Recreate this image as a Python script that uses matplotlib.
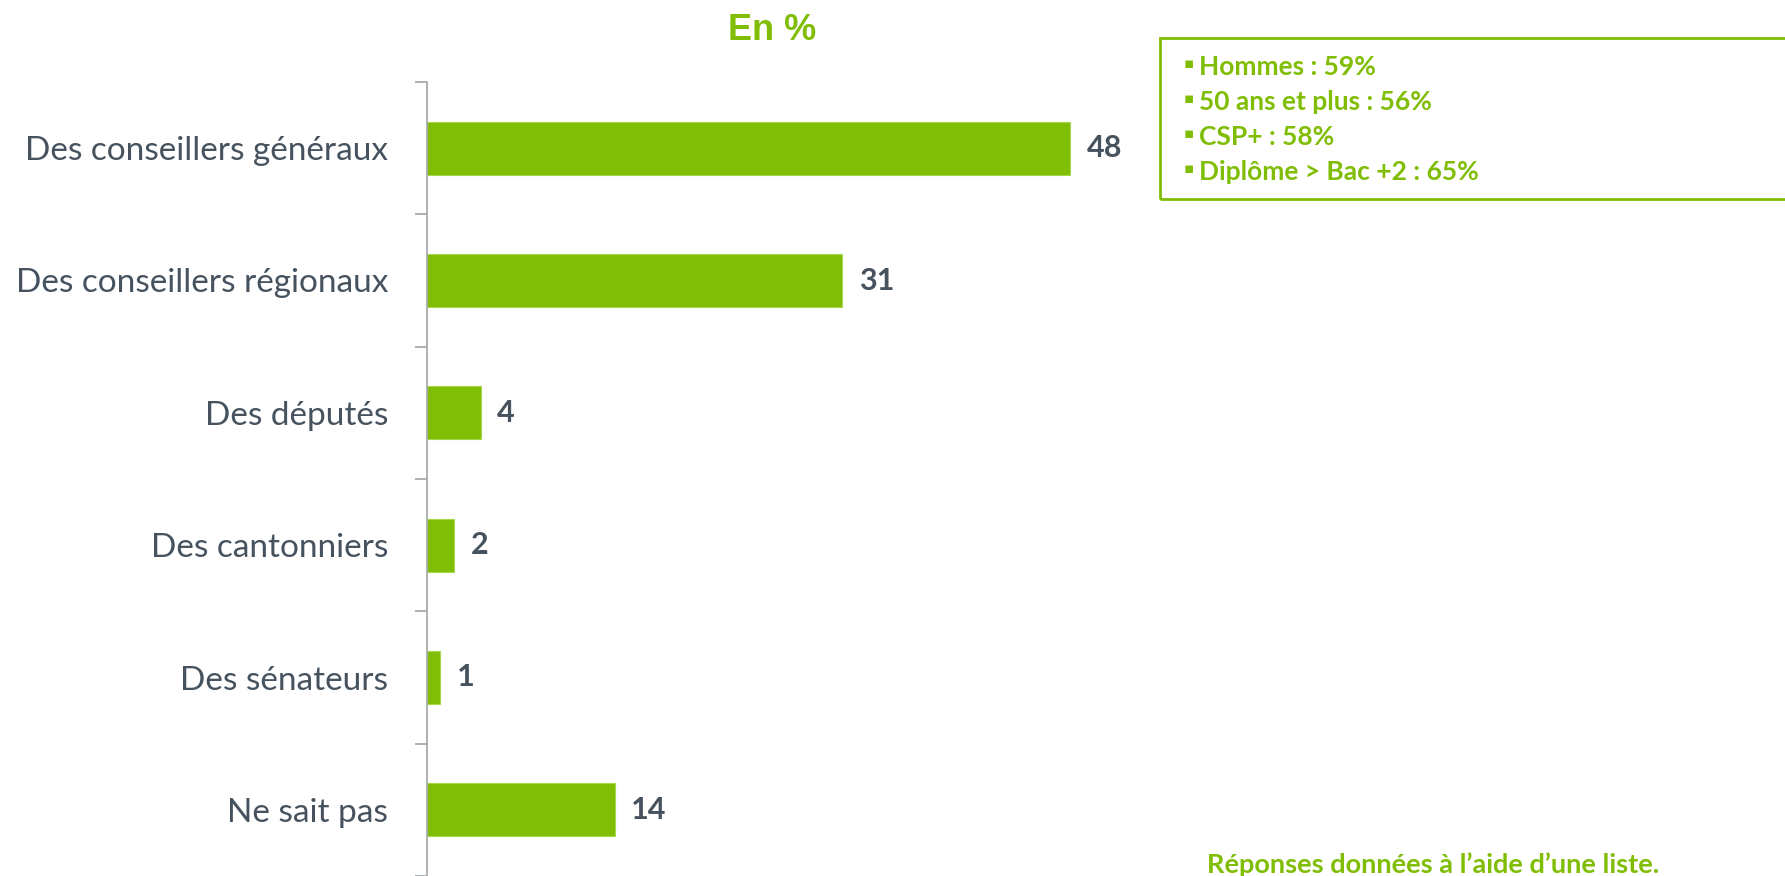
import matplotlib.pyplot as plt
from matplotlib.patches import Rectangle

green = '#80bd05'
slate = '#46535f'

categories = ['Des conseillers généraux', 'Des conseillers régionaux', 'Des députés',
              'Des cantonniers', 'Des sénateurs', 'Ne sait pas']
values = [48, 31, 4, 2, 1, 14]
box_lines = ['Hommes : 59%', '50 ans et plus : 56%', 'CSP+ : 58%', 'Diplôme > Bac +2 : 65%']

W, H = 1785, 876
fig = plt.figure(figsize=(W / 100, H / 100), dpi=100)
ax = fig.add_axes([427 / W, 0, 1340 / W, 794 / H])

ypos = list(range(len(categories)))
ax.barh(ypos, values, height=0.4, color=green, edgecolor='#a6d64a', linewidth=0.8)
ax.set_xlim(0, 100)
ax.set_ylim(len(categories) - 0.5, -0.5)

for y, v in zip(ypos, values):
    ax.annotate(str(v), (v, y), xytext=(12, 0), textcoords='offset points',
                va='center', ha='left', fontsize=22, fontweight='bold',
                color=slate, family='Lato')

ax.set_yticks(ypos)
ax.set_yticklabels(categories, fontsize=24, color=slate, family='Lato',
                   fontweight='normal')
ax.set_yticks([i - 0.5 for i in range(len(categories) + 1)], minor=True)
ax.tick_params(axis='y', which='major', length=0, pad=28)
ax.tick_params(axis='y', which='minor', length=9, color='#a0a4a8', width=1.2)
ax.set_xticks([])
for s in ['top', 'right', 'bottom']:
    ax.spines[s].set_visible(False)
ax.spines['left'].set_color('#a0a4a8')
ax.spines['left'].set_linewidth(1.2)

fig.text(772 / W, 1 - 31 / H, 'En %', ha='center', va='center', fontsize=26,
         fontweight='bold', color=green, family='Liberation Sans')

fig.patches.append(Rectangle((1160 / W, 1 - 199 / H), 640 / W, 161 / H,
                             transform=fig.transFigure, fill=False,
                             edgecolor=green, linewidth=2))
for i, t in enumerate(box_lines):
    yy = 1 - (67 + i * 35) / H
    fig.text(1184 / W, yy + 4 / H, '▪', ha='left', va='center', fontsize=11,
             color=green, family='DejaVu Sans')
    fig.text(1199 / W, yy, t, ha='left', va='center', fontsize=19,
             fontweight='bold', color=green, family='Lato')

fig.text(1207 / W, 1 - 865 / H, 'Réponses données à l\u2019aide d\u2019une liste.',
         ha='left', va='center', fontsize=19.5, fontweight='bold', color=green,
         family='Lato')

fig.savefig('out.png', dpi=100)
